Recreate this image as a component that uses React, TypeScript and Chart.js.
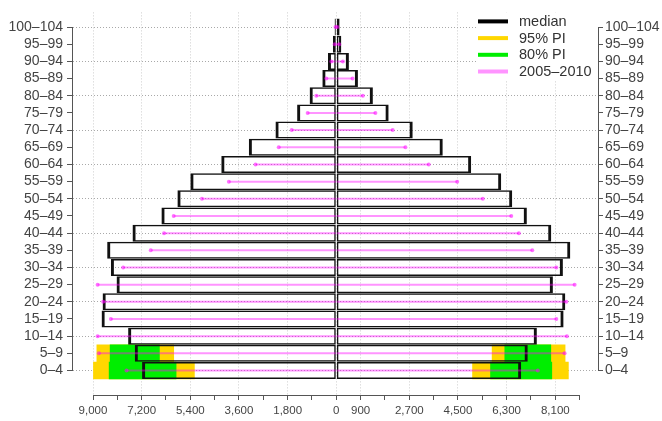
import React, { useEffect, useRef } from 'react';
import { Chart, registerables } from 'chart.js';

Chart.register(...registerables);

// ---------- data ----------
const ageGroups = [
  '0–4', '5–9', '10–14', '15–19', '20–24', '25–29', '30–34', '35–39', '40–44', '45–49',
  '50–54', '55–59', '60–64', '65–69', '70–74', '75–79', '80–84', '85–89', '90–94', '95–99', '100–104',
];

// median projection (left side / right side), index 0 = 0–4
const maleMedian = [7185, 7455, 7701, 8683, 8646, 8129, 8339, 8476, 7539, 6469, 5878, 5399, 4255, 3236, 2251, 1450, 987, 517, 310, 126, 63];
const femaleMedian = [6838, 7082, 7419, 8408, 8471, 8012, 8382, 8656, 7952, 7049, 6508, 6100, 4989, 3938, 2827, 1937, 1353, 800, 466, 185, 122];

// 2005–2010 population
const male2005 = [7762, 8782, 8830, 8339, 8624, 8830, 7886, 6863, 6373, 6015, 4970, 3974, 2989, 2129, 1649, 1059, 740, 370, 185, 60, 30];
const female2005 = [7456, 8445, 8530, 8138, 8508, 8815, 8138, 7249, 6753, 6471, 5419, 4471, 3419, 2556, 2085, 1445, 983, 600, 245, 110, 40];

// prediction intervals for the two youngest groups (0–4, 5–9)
const bandRows = [0, 1];
const male95Outer = [8996, 8870];
const male95Inner = [5237, 6002];
const male80Outer = [8416, 8379];
const male80Inner = [5914, 6531];
const female95Inner = [5027, 5751];
const female95Outer = [8597, 8475];
const female80Inner = [5692, 6220];
const female80Outer = [7983, 7946];

// x axis ticks
const xTicks = [-9000, -8100, -7200, -6300, -5400, -4500, -3600, -2700, -1800, -900, 0, 900, 1800, 2700, 3600, 4500, 5400, 6300, 7200, 8100, 9000];
const xLabelled = [-9000, -7200, -5400, -3600, -1800, 0, 900, 2700, 4500, 6300, 8100];

const legendLabels = ['median', '95% PI', '80% PI', '2005–2010'];

// ---------- styles ----------
const FONT = '"Liberation Sans", Arial, Helvetica, sans-serif';
const YELLOW = '#FFD700';
const GREEN = '#00EE00';
const MAGENTA_LINE = 'rgba(255,0,255,0.42)';
const MAGENTA_DOT = 'rgba(255,0,255,0.55)';
const legendColors = ['#000000', YELLOW, GREEN, 'rgba(255,0,255,0.42)'];

const rows = ageGroups.map((_, i) => i);

const decorPlugin = {
  id: 'decor',
  afterDraw(chart: any) {
    const { ctx, chartArea: ca, scales } = chart;
    const xs = scales.x;
    const ys = scales.y;
    ctx.save();
    // R-style axis lines spanning only the tick range
    ctx.strokeStyle = '#555';
    ctx.lineWidth = 1;
    ctx.setLineDash([]);
    const yTop = ys.getPixelForValue(ageGroups.length - 1);
    const yBot = ys.getPixelForValue(0);
    const lx = Math.round(ca.left) - 0.5;
    const rx = Math.round(ca.right) + 0.5;
    const by = Math.round(ca.bottom) + 0.5;
    ctx.beginPath();
    ctx.moveTo(lx, yTop);
    ctx.lineTo(lx, yBot);
    ctx.moveTo(rx, yTop);
    ctx.lineTo(rx, yBot);
    ctx.moveTo(xs.getPixelForValue(xTicks[0]), by);
    ctx.lineTo(xs.getPixelForValue(xTicks[xTicks.length - 1]), by);
    ctx.stroke();

    // legend
    const x0 = ca.right - 120;
    const y0 = ca.top;
    ctx.fillStyle = '#ffffff';
    ctx.fillRect(x0 - 2, y0, 120, 68);
    ctx.font = `14.5px ${FONT}`;
    ctx.textBaseline = 'middle';
    ctx.textAlign = 'left';
    legendLabels.forEach((lab, i) => {
      const yy = y0 + 9 + i * 16.7;
      ctx.strokeStyle = legendColors[i];
      ctx.lineWidth = 4;
      ctx.lineCap = 'butt';
      ctx.beginPath();
      ctx.moveTo(x0, yy);
      ctx.lineTo(x0 + 30, yy);
      ctx.stroke();
      ctx.fillStyle = '#333';
      ctx.fillText(lab, x0 + 41, yy + 0.5);
    });
    ctx.restore();
  },
};

export default function App() {
  const ref = useRef<HTMLCanvasElement>(null);

  useEffect(() => {
    const canvas = ref.current;
    if (!canvas) return;

    const outline = '#111';
    const datasets: any[] = [
      {
        type: 'bar', label: '95% PI', order: 6, backgroundColor: YELLOW, borderWidth: 0, barThickness: 17.5,
        data: bandRows.map((r, k) => ({ y: r, x: [-male95Outer[k], -male95Inner[k]] })),
      },
      {
        type: 'bar', label: '95% PI f', order: 6, backgroundColor: YELLOW, borderWidth: 0, barThickness: 17.5,
        data: bandRows.map((r, k) => ({ y: r, x: [female95Inner[k], female95Outer[k]] })),
      },
      {
        type: 'bar', label: '80% PI', order: 5, backgroundColor: GREEN, borderWidth: 0, barThickness: 17.5,
        data: bandRows.map((r, k) => ({ y: r, x: [-male80Outer[k], -male80Inner[k]] })),
      },
      {
        type: 'bar', label: '80% PI f', order: 5, backgroundColor: GREEN, borderWidth: 0, barThickness: 17.5,
        data: bandRows.map((r, k) => ({ y: r, x: [female80Inner[k], female80Outer[k]] })),
      },
      {
        type: 'bar', label: 'median', order: 3, backgroundColor: 'rgba(0,0,0,0)', borderColor: outline,
        borderWidth: { left: 3, right: 1.5, top: 1.5, bottom: 1.5 }, barThickness: 17,
        data: rows.map((i) => ({ y: i, x: [-maleMedian[i], 0] })),
      },
      {
        type: 'bar', label: 'median f', order: 3, backgroundColor: 'rgba(0,0,0,0)', borderColor: outline,
        borderWidth: { left: 1.5, right: 3, top: 1.5, bottom: 1.5 }, barThickness: 17,
        data: rows.map((i) => ({ y: i, x: [0, femaleMedian[i]] })),
      },
      {
        type: 'bar', label: '2005–2010', order: 1, backgroundColor: MAGENTA_LINE, borderWidth: 0, barThickness: 2,
        data: rows.map((i) => ({ y: i, x: [-male2005[i], 0] })),
      },
      {
        type: 'bar', label: '2005–2010 f', order: 1, backgroundColor: MAGENTA_LINE, borderWidth: 0, barThickness: 2,
        data: rows.map((i) => ({ y: i, x: [0, female2005[i]] })),
      },
      {
        type: 'scatter', label: '2005–2010 pts', order: 0, showLine: false,
        pointRadius: 2, pointBackgroundColor: MAGENTA_DOT, pointBorderWidth: 0,
        data: [
          ...rows.map((i) => ({ x: -male2005[i], y: i })),
          ...rows.map((i) => ({ x: female2005[i], y: i })),
        ],
      },
    ];
    datasets.forEach((d) => { d.xAxisID = 'x'; d.yAxisID = 'y'; });

    const yTickOpts = {
      autoSkip: false,
      color: '#444',
      font: { family: FONT, size: 14 },
      callback: (v: any) => ageGroups[v],
    };

    const chart = new Chart(canvas, {
      type: 'bar',
      data: { datasets },
      plugins: [decorPlugin],
      options: {
        responsive: false,
        animation: false,
        indexAxis: 'y',
        layout: { padding: { top: 5, left: 0, right: 0, bottom: 0 } },
        datasets: {
          bar: { grouped: false, borderSkipped: false, inflateAmount: 0 },
        } as any,
        plugins: {
          legend: { display: false },
          tooltip: { enabled: false },
        },
        scales: {
          x: {
            type: 'linear',
            position: 'bottom',
            min: -9740,
            max: 9680,
            offset: false,
            afterBuildTicks: (s: any) => { s.ticks = xTicks.map((v) => ({ value: v })); },
            afterFit: (s: any) => { s.height = 26; },
            ticks: {
              autoSkip: false,
              maxRotation: 0,
              minRotation: 0,
              padding: 4,
              color: '#444',
              font: { family: FONT, size: 11.5 },
              callback: (v: any) => (xLabelled.includes(v) ? Math.abs(v).toLocaleString('en-US') : ''),
            },
            grid: {
              offset: false,
              lineWidth: 1,
              color: (c: any) => (c.tick && xLabelled.includes(c.tick.value) ? '#cdcdcd' : 'rgba(0,0,0,0)'),
              drawTicks: true,
              tickLength: 5,
              tickColor: '#555',
              tickWidth: 1,
              tickBorderDash: [],
            },
            border: { display: false, dash: [1, 2] },
          } as any,
          y: {
            type: 'linear',
            position: 'left',
            min: -25 / 17.5,
            max: 20 + 15 / 17.5,
            offset: false,
            afterBuildTicks: (s: any) => { s.ticks = rows.map((v) => ({ value: v })); },
            afterFit: (s: any) => { s.width = 73; },
            ticks: { ...yTickOpts, padding: 4 },
            grid: {
              offset: false,
              lineWidth: 1,
              color: (c: any) => (c.tick && c.tick.value % 2 === 0 ? '#a9a9a9' : 'rgba(0,0,0,0)'),
              drawTicks: true,
              tickLength: 6,
              tickColor: '#555',
              tickWidth: 1,
              tickBorderDash: [],
            },
            border: { display: false, dash: [1, 2] },
          } as any,
          y2: {
            type: 'linear',
            position: 'right',
            min: -25 / 17.5,
            max: 20 + 15 / 17.5,
            offset: false,
            afterBuildTicks: (s: any) => { s.ticks = rows.map((v) => ({ value: v })); },
            afterFit: (s: any) => { s.width = 64; },
            ticks: { ...yTickOpts, padding: 2 },
            grid: {
              offset: false,
              drawOnChartArea: false,
              drawTicks: true,
              tickLength: 5,
              tickColor: '#555',
              tickWidth: 1,
              tickBorderDash: [],
            },
            border: { display: false },
          } as any,
        },
      },
    });

    return () => chart.destroy();
  }, []);

  return (
    <div style={{ position: 'fixed', left: 0, top: 0, width: 662, height: 421, background: '#ffffff' }}>
      <canvas ref={ref} width={662} height={421} style={{ display: 'block' }} />
    </div>
  );
}
